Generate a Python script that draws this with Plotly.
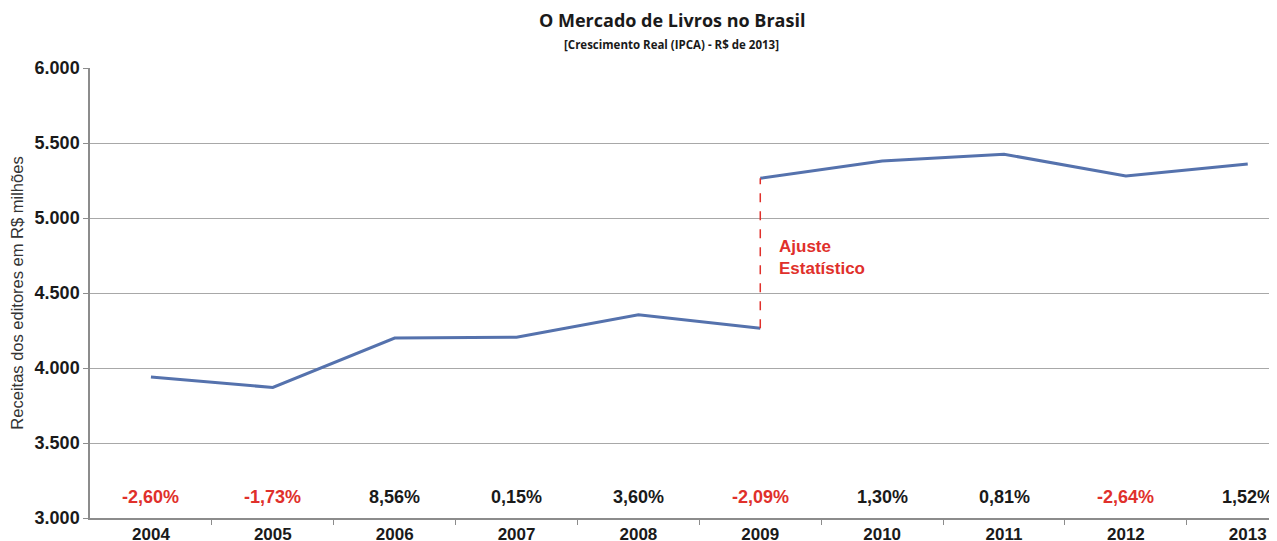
import plotly.graph_objects as go

years = [2004, 2005, 2006, 2007, 2008, 2009, 2010, 2011, 2012, 2013]
years_before = [2004, 2005, 2006, 2007, 2008, 2009]
revenue_before = [3940, 3870, 4200, 4205, 4355, 4265]
years_after = [2009, 2010, 2011, 2012, 2013]
revenue_after = [5265, 5380, 5425, 5280, 5360]
growth_labels = ["-2,60%", "-1,73%", "8,56%", "0,15%", "3,60%", "-2,09%", "1,30%", "0,81%", "-2,64%", "1,52%"]
growth_negative = [True, True, False, False, False, True, False, False, True, False]
y_ticks = [3000, 3500, 4000, 4500, 5000, 5500, 6000]
y_tick_text = ["3.000", "3.500", "4.000", "4.500", "5.000", "5.500", "6.000"]

LINE = "#5572ad"
RED = "#e0302b"
DARK = "#1a1a1a"
FONT = "Liberation Sans, Arial"

fig = go.Figure()
fig.add_trace(go.Scatter(x=years_before, y=revenue_before, mode="lines",
                         line=dict(color=LINE, width=3), showlegend=False, hoverinfo="skip"))
fig.add_trace(go.Scatter(x=years_after, y=revenue_after, mode="lines",
                         line=dict(color=LINE, width=3), showlegend=False, hoverinfo="skip"))
fig.add_trace(go.Scatter(x=[years_before[-1], years_after[0]], y=[revenue_before[-1], revenue_after[0]],
                         mode="lines", line=dict(color=RED, width=1.5, dash="dash"),
                         showlegend=False, hoverinfo="skip"))

for yr, lab, neg in zip(years, growth_labels, growth_negative):
    fig.add_annotation(x=yr, y=3140, xref="x", yref="y", text=lab, showarrow=False,
                       font=dict(family=FONT, size=18, color=RED if neg else DARK, weight="bold"))

fig.add_annotation(x=2009, y=4735, xref="x", yref="y", xanchor="left", yanchor="middle",
                   xshift=17, text="Ajuste<br>Estatístico", align="left", showarrow=False,
                   font=dict(family=FONT, size=17, color=RED, weight="bold"))

# Title and subtitle
fig.add_annotation(x=0.4903, y=1.1067, xref="paper", yref="paper", xanchor="center", yanchor="middle",
                   text="<b>O Mercado de Livros no Brasil</b>", showarrow=False,
                   font=dict(family="Open Sans, Noto Sans", size=18, color=DARK))
fig.add_annotation(x=0.4903, y=1.0533, xref="paper", yref="paper", xanchor="center", yanchor="middle",
                   text="<b>[Crescimento Real (IPCA) - R$ de 2013]</b>", showarrow=False,
                   font=dict(family="Open Sans, Noto Sans", size=11.5, color=DARK))

# The page body adds an 8px offset; the figure is sized to compensate.
fig.update_layout(
    width=1269, height=533,
    margin=dict(l=82, r=0, t=60, b=23),
    paper_bgcolor="white", plot_bgcolor="white",
    xaxis=dict(range=[2003.5, 2013.24], tickvals=years, ticktext=[str(y) for y in years],
               showgrid=False, showline=True, linecolor="#8c8c8c", linewidth=1.5,
               ticks="", ticklabelstandoff=0,
               tickfont=dict(family=FONT, size=17, color=DARK, weight="bold"),
               zeroline=False, fixedrange=True, automargin=False),
    yaxis=dict(range=[3000, 6000], tickvals=y_ticks, ticktext=y_tick_text,
               showgrid=True, gridcolor="#a8a8a8", gridwidth=1,
               showline=True, linecolor="#8c8c8c", linewidth=1.5,
               ticks="outside", ticklen=5, tickcolor="#8c8c8c",
               tickfont=dict(family=FONT, size=18, color=DARK, weight="bold"),
               title=dict(text="Receitas dos editores em R$ milhões", standoff=10,
                          font=dict(family=FONT, size=16.5, color="#333333")),
               zeroline=False, fixedrange=True, automargin=False),
)

fig.update_xaxes(minor=dict(tickvals=[y + 0.5 for y in years[:-1]], ticks="outside",
                            ticklen=5, tickcolor="#8c8c8c", showgrid=False))

fig.write_html("out.html")
